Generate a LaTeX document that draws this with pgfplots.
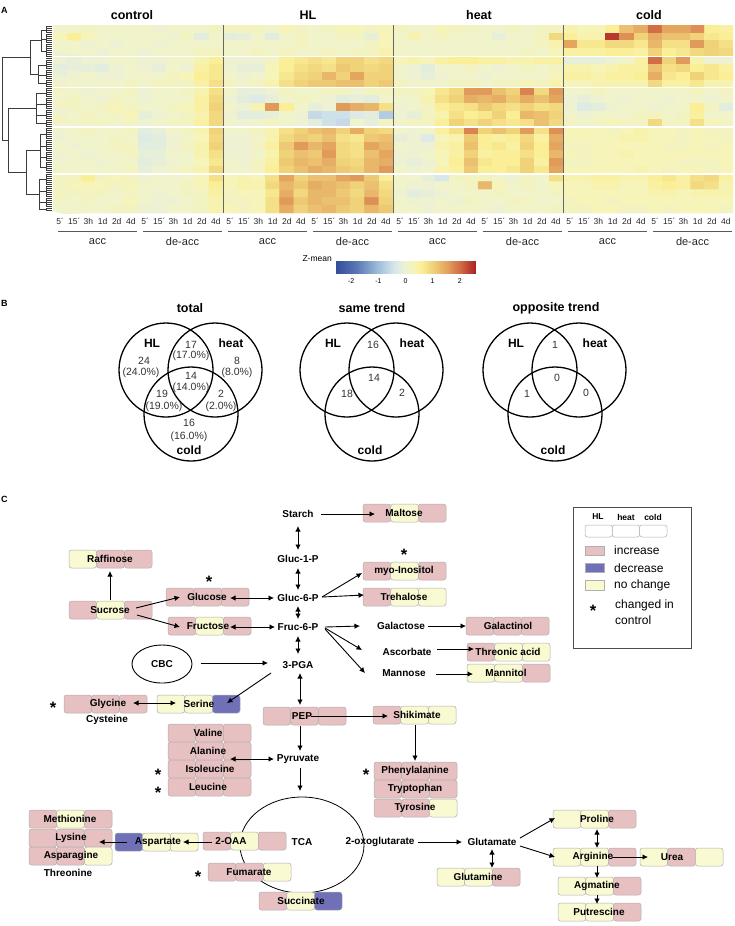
\documentclass[border=0pt]{standalone}
\usepackage{fontspec}
\setmainfont{Liberation Sans}
\usepackage{pgfplots}
\pgfplotsset{compat=1.18}
\usetikzlibrary{arrows.meta}
\definecolor{inc}{RGB}{231,192,193}
\definecolor{dec}{RGB}{112,112,184}
\definecolor{nc}{RGB}{249,249,210}
\definecolor{bxd}{RGB}{175,175,175}
\definecolor{dend}{RGB}{60,60,60}
\newcommand{\fsz}[1]{\fontsize{#1}{#1}\selectfont}
\tikzset{
  ar/.style={-{Latex[length=5.5pt,width=5.5pt]}, line width=0.9pt},
  dar/.style={{Latex[length=5.5pt,width=5.5pt]}-{Latex[length=5.5pt,width=5.5pt]}, line width=0.9pt},
  lab/.style={font=\bfseries\fsz{10}, inner sep=0pt},
  num/.style={font=\fsz{10.5}, text=black!80, inner sep=0pt},
  vlab/.style={font=\bfseries\fsz{12}, inner sep=0pt},
  star/.style={font=\bfseries\fsz{16.5}, inner sep=0pt},
}
\newcommand{\tri}[7]{%
  \draw[bxd, fill=#3, rounded corners=2.5pt, line width=0.5pt] (#1,#2) rectangle ({#1+27.7},{#2+18});
  \draw[bxd, fill=#4, rounded corners=2.5pt, line width=0.5pt] ({#1+27.7},#2) rectangle ({#1+55.4},{#2+18});
  \draw[bxd, fill=#5, rounded corners=2.5pt, line width=0.5pt] ({#1+55.4},#2) rectangle ({#1+83},{#2+18});
  \node[lab] at (#6,{#2+9}) {#7};
}
\newcommand{\venncirc}[1]{%
  \draw[line width=1.3pt] ({166+#1},370) circle[radius=47];
  \draw[line width=1.3pt] ({215+#1},370) circle[radius=47];
  \draw[line width=1.3pt] ({191+#1},414) circle[radius=47];
  \node[vlab] at ({152+#1},343) {HL};
  \node[vlab] at ({231+#1},343) {heat};
  \node[vlab] at ({189+#1},450) {cold};
}
\newcommand{\dsub}[3]{%
  \draw[dend,line width=0.6pt] (46,#2) -- (46,#3);
  \draw[dend,line width=0.6pt] (#1,{(#2+#3)/2}) -- (46,{(#2+#3)/2});
}
\begin{document}
\begin{tikzpicture}
\useasboundingbox (0,0) rectangle (734pt,-926pt);

% ---------- panel A decorations (dendrogram, titles, brackets)
\begin{scope}[x=1pt,y=-1pt]
  \node[font=\bfseries\fsz{9}, anchor=west, inner sep=0pt] at (1,10) {A};
  \node[font=\bfseries\fsz{12.5}] at (132,15) {control};
  \node[font=\bfseries\fsz{12.5}] at (308,15) {HL};
  \node[font=\bfseries\fsz{12.5}] at (479,15) {heat};
  \node[font=\bfseries\fsz{12.5}] at (649,15) {cold};
  \foreach \k in {0,...,92} { \draw[dend, line width=0.45pt] (46,{26.5+2*\k}) -- (52,{26.5+2*\k}); }
  \dsub{41}{27}{33}\dsub{41}{35}{43}\dsub{41}{45}{57}
  \draw[dend,line width=0.6pt] (41,30) -- (41,51);
  \dsub{38}{61}{69}\dsub{38}{71}{79}\dsub{38}{81}{86}
  \draw[dend,line width=0.6pt] (38,65) -- (38,83.5);
  \dsub{36}{89}{97}\dsub{36}{99}{109}\dsub{36}{111}{119}\dsub{36}{121}{126}
  \draw[dend,line width=0.6pt] (36,93) -- (36,123.5);
  \dsub{40}{129}{139}\dsub{40}{141}{151}\dsub{40}{153}{161}\dsub{40}{163}{171}
  \draw[dend,line width=0.6pt] (40,134) -- (40,167);
  \dsub{39}{174}{184}\dsub{39}{186}{196}\dsub{39}{198}{206}\dsub{39}{208}{211}
  \draw[dend,line width=0.6pt] (39,179) -- (39,209.5);
  \draw[dend,line width=0.8pt] (41,40.5) -- (30,40.5) -- (30,74.25) -- (38,74.25);
  \draw[dend,line width=0.8pt] (40,150.5) -- (26,150.5) -- (26,194.25) -- (39,194.25);
  \draw[dend,line width=0.8pt] (36,108.25) -- (8,108.25) -- (8,172.4) -- (26,172.4);
  \draw[dend,line width=0.9pt] (30,57.4) -- (2,57.4) -- (2,140.3) -- (8,140.3);
  % brackets
  \foreach \g/\t in {0/acc,1/de-acc,2/acc,3/de-acc,4/acc,5/de-acc,6/acc,7/de-acc} {
    \draw[black!65, line width=0.7pt] ({58+85*\g},231) -- ({137+85*\g},231);
    \node[font=\fsz{11}, text=black!85] at ({97.5+85*\g},242) {\t};
  }
  \node[font=\fsz{8.5}, anchor=east, inner sep=1pt] at (333,259) {Z-mean};
\end{scope}

% ---------- heatmap
\begin{axis}[at={(53pt,-25pt)}, anchor=north west, scale only axis,
  width=680pt, height=188pt,
  xmin=-0.5, xmax=47.5, ymin=-0.5, ymax=23.5, y dir=reverse,
  axis line style={draw=none}, ytick=\empty,
  xtick={0,...,47},
  xticklabels={5´,15´,3h,1d,2d,4d,5´,15´,3h,1d,2d,4d,5´,15´,3h,1d,2d,4d,5´,15´,3h,1d,2d,4d,5´,15´,3h,1d,2d,4d,5´,15´,3h,1d,2d,4d,5´,15´,3h,1d,2d,4d,5´,15´,3h,1d,2d,4d},
  xtick style={draw=none},
  xticklabel style={font=\fsz{8.5}, text=black!85, yshift=-1.5pt},
  colormap={zm}{rgb255(0cm)=(50,75,155); rgb255(8cm)=(90,120,180); rgb255(16cm)=(160,190,220); rgb255(22cm)=(215,232,235); rgb255(26cm)=(238,242,210); rgb255(29cm)=(246,244,185); rgb255(32cm)=(250,238,150); rgb255(36cm)=(240,210,120); rgb255(41cm)=(228,165,95); rgb255(46cm)=(210,110,70); rgb255(52cm)=(170,30,35)},
  point meta min=-2.6, point meta max=2.6,
  colorbar horizontal,
  colorbar style={at={(parent axis.south west)}, anchor=north west, xshift=282pt, yshift=-40pt,
    width=141pt, height=12pt, scale only axis,
    xtick={-2,-1,0,1,2}, xticklabels={-2,-1,0,1,2},
    xticklabel style={font=\fsz{7}, yshift=-2pt},
    xtick style={draw=none}, axis line style={draw=none}},
]
\addplot[matrix plot*, mesh/cols=48, point meta=explicit]
  table[row sep=\\, x expr={mod(\coordindex,48)}, y expr={floor(\coordindex/48)}, meta=z] {
z\\
0.1\\0.1\\0.2\\0.1\\0.1\\0.1\\ 0.1\\0.0\\0.1\\0.1\\0.1\\0.2\\ 0.2\\0.2\\0.2\\0.1\\0.3\\0.2\\ 0.1\\0.2\\0.3\\0.3\\0.2\\0.3\\ 0.2\\0.1\\0.1\\0.3\\0.2\\0.2\\ 0.1\\0.1\\0.2\\0.1\\0.2\\0.2\\ 0.4\\0.3\\0.3\\0.6\\1.2\\1.4\\ 2.0\\1.5\\1.5\\1.7\\0.6\\0.5\\
0.3\\0.6\\0.3\\0.1\\0.1\\0.1\\ 0.1\\0.1\\0.0\\0.2\\-0.2\\0.1\\ -0.2\\-0.1\\0.1\\-0.2\\0.1\\0.2\\ 0.1\\0.1\\0.2\\0.2\\-0.1\\0.3\\ 0.1\\0.4\\0.1\\0.2\\0.1\\0.1\\ 0.1\\-0.1\\0.1\\0.1\\0.2\\0.9\\ 0.6\\0.4\\0.4\\2.4\\1.7\\1.0\\ 1.4\\1.2\\1.2\\1.0\\0.7\\0.6\\
0.1\\0.1\\0.0\\0.1\\0.0\\0.1\\ 0.1\\0.0\\0.1\\0.1\\0.1\\0.1\\ 0.1\\0.1\\0.1\\0.1\\0.1\\0.2\\ 0.1\\0.1\\0.1\\0.1\\0.2\\0.3\\ 0.1\\0.1\\0.1\\0.1\\0.1\\0.1\\ 0.1\\0.1\\0.1\\0.1\\0.2\\0.4\\ 1.5\\0.7\\0.7\\0.9\\0.9\\0.7\\ 1.3\\0.8\\0.8\\1.6\\1.0\\0.8\\
0.1\\0.1\\0.1\\0.0\\0.1\\0.1\\ 0.0\\0.1\\0.1\\0.1\\0.2\\0.2\\ 0.1\\0.1\\0.2\\0.1\\0.2\\0.1\\ 0.1\\0.2\\0.1\\0.2\\0.2\\0.4\\ 0.1\\0.1\\0.1\\0.1\\0.1\\0.1\\ 0.1\\0.1\\0.1\\0.2\\0.1\\0.3\\ 0.5\\0.5\\0.5\\0.6\\0.6\\0.5\\ 1.0\\0.6\\0.7\\0.9\\1.0\\0.9\\
0.0\\-0.1\\0.0\\0.0\\0.1\\0.1\\ 0.0\\0.0\\0.1\\0.1\\0.4\\0.6\\ 0.0\\0.0\\0.0\\0.2\\0.6\\0.7\\ 0.8\\0.7\\1.0\\1.0\\0.8\\0.9\\ 0.3\\0.4\\0.3\\0.5\\0.6\\0.6\\ 0.5\\0.5\\0.4\\0.4\\0.5\\0.5\\ -0.1\\-0.1\\-0.1\\0.0\\0.1\\0.5\\ 2.0\\1.0\\1.6\\0.4\\0.0\\0.0\\
-0.2\\-0.1\\-0.1\\-0.2\\0.0\\0.1\\ 0.0\\-0.1\\0.1\\0.0\\0.5\\0.7\\ 0.0\\-0.1\\-0.1\\0.3\\0.6\\0.8\\ 0.9\\0.8\\1.1\\1.0\\0.9\\1.0\\ 0.1\\0.0\\-0.2\\0.1\\0.1\\0.2\\ 0.1\\0.0\\0.1\\0.2\\0.1\\0.2\\ 0.4\\0.4\\0.3\\0.4\\0.5\\0.5\\ 1.2\\0.8\\0.9\\0.6\\0.7\\0.5\\
-0.1\\0.0\\0.1\\0.0\\0.0\\0.1\\ 0.1\\0.1\\0.2\\0.3\\0.6\\0.7\\ 0.1\\0.0\\0.1\\0.3\\0.7\\0.9\\ 1.0\\1.3\\1.0\\1.5\\1.0\\1.0\\ 0.1\\0.0\\-0.1\\0.0\\0.1\\0.1\\ 0.0\\0.1\\0.1\\0.1\\0.1\\0.3\\ 0.5\\0.5\\0.4\\0.5\\0.5\\0.6\\ 1.4\\0.7\\0.6\\1.0\\0.7\\0.6\\
0.0\\0.1\\0.1\\0.1\\0.1\\0.2\\ 0.1\\0.2\\0.2\\0.2\\0.5\\0.8\\ 0.2\\0.1\\0.2\\0.4\\0.8\\1.0\\ 1.1\\1.1\\1.2\\1.2\\1.0\\1.1\\ 0.2\\0.1\\0.1\\0.1\\0.2\\0.2\\ 0.1\\0.2\\0.2\\0.3\\0.2\\0.4\\ 0.3\\0.3\\0.4\\0.4\\0.4\\0.4\\ 0.9\\0.5\\0.5\\0.7\\0.4\\0.4\\
0.2\\0.1\\0.0\\0.1\\0.1\\0.2\\ 0.0\\0.1\\0.1\\0.2\\0.4\\0.8\\ 0.1\\-0.1\\-0.1\\0.0\\0.2\\0.1\\ 0.1\\0.2\\0.2\\0.0\\0.2\\0.2\\ 0.2\\0.2\\0.3\\0.7\\0.9\\1.6\\ 1.6\\1.2\\1.0\\1.8\\0.9\\1.6\\ 0.1\\0.1\\0.2\\0.1\\0.1\\0.1\\ 0.1\\0.1\\0.1\\0.2\\0.1\\0.2\\
0.1\\0.2\\0.1\\0.0\\0.2\\0.1\\ 0.0\\0.1\\0.1\\0.1\\0.5\\0.9\\ 0.0\\-0.2\\-0.3\\-0.1\\0.1\\0.2\\ 0.1\\0.0\\-0.2\\-0.1\\-0.2\\0.1\\ 0.1\\0.1\\0.4\\0.8\\1.0\\1.4\\ 1.3\\1.4\\1.1\\1.4\\1.2\\1.5\\ 0.0\\-0.1\\0.0\\0.1\\0.0\\0.1\\ 0.1\\0.0\\0.1\\0.1\\0.0\\0.1\\
0.3\\0.2\\0.1\\0.2\\0.3\\0.2\\ 0.1\\0.1\\0.2\\0.3\\0.5\\1.0\\ 0.1\\0.0\\0.4\\1.6\\0.6\\0.1\\ -0.1\\0.0\\1.6\\1.4\\1.3\\0.8\\ 0.0\\0.1\\0.2\\0.6\\0.7\\0.8\\ 1.1\\0.9\\0.8\\1.0\\0.8\\0.9\\ 0.0\\-0.3\\-0.2\\0.0\\0.1\\0.1\\ 0.0\\0.1\\0.1\\0.6\\0.2\\-0.2\\
0.0\\0.1\\0.2\\0.1\\0.2\\0.3\\ -0.1\\0.0\\0.1\\0.2\\0.4\\0.9\\ 0.0\\-0.2\\-0.2\\-0.1\\0.1\\0.0\\ -0.6\\-0.5\\-0.5\\-0.3\\-0.2\\-0.8\\ 0.0\\-0.1\\0.2\\0.4\\0.8\\0.6\\ 0.7\\1.0\\0.6\\1.3\\1.2\\1.0\\ 0.1\\0.0\\0.1\\0.1\\0.1\\0.2\\ 0.2\\0.1\\0.2\\0.5\\0.1\\0.1\\
0.2\\0.1\\0.2\\0.2\\0.1\\0.2\\ 0.0\\0.1\\0.2\\0.2\\0.5\\0.9\\ 0.1\\0.0\\0.1\\0.2\\0.1\\0.0\\ -0.2\\-0.5\\-0.6\\0.1\\-0.1\\0.2\\ 0.1\\0.2\\0.2\\0.6\\1.0\\0.8\\ 1.0\\0.8\\0.7\\0.8\\1.2\\0.9\\ 0.2\\0.1\\0.2\\0.3\\0.2\\0.2\\ 0.9\\0.2\\0.2\\0.8\\0.3\\0.2\\
0.1\\0.1\\0.2\\0.1\\0.1\\0.2\\ -0.2\\-0.1\\0.1\\0.2\\0.4\\1.0\\ 0.1\\0.1\\0.2\\0.4\\0.8\\1.0\\ 1.2\\1.3\\1.0\\1.4\\1.0\\0.9\\ 0.1\\0.0\\0.1\\0.5\\0.8\\1.8\\ 1.0\\1.2\\1.0\\1.6\\0.8\\1.7\\ 0.3\\0.3\\0.3\\0.2\\0.3\\0.4\\ 0.3\\0.3\\0.2\\0.3\\0.2\\0.2\\
0.0\\0.1\\0.1\\0.1\\0.2\\0.1\\ -0.3\\-0.2\\0.0\\0.1\\0.3\\0.9\\ 0.0\\0.0\\0.1\\0.4\\0.9\\1.1\\ 1.0\\1.2\\0.8\\0.7\\1.1\\1.2\\ -0.1\\0.0\\-0.3\\0.3\\0.4\\1.1\\ 0.6\\0.5\\0.6\\0.9\\0.5\\1.4\\ 0.3\\0.3\\0.3\\0.3\\0.4\\0.4\\ 0.3\\0.3\\0.2\\0.3\\0.3\\0.2\\
0.1\\0.0\\0.1\\0.1\\0.2\\0.2\\ -0.2\\-0.2\\0.0\\0.2\\0.4\\1.0\\ 0.0\\0.0\\0.2\\0.5\\1.1\\1.6\\ 1.3\\1.5\\0.9\\0.8\\1.5\\1.3\\ 0.1\\0.0\\0.0\\0.4\\0.5\\1.2\\ 0.6\\0.7\\0.5\\1.0\\0.6\\1.5\\ 0.2\\0.2\\0.3\\0.3\\0.3\\0.3\\ 0.3\\0.2\\0.2\\0.3\\0.2\\0.3\\
0.1\\0.1\\0.0\\0.1\\0.1\\0.2\\ -0.1\\-0.1\\0.1\\0.1\\0.4\\0.8\\ 0.0\\0.0\\0.1\\0.4\\1.0\\1.2\\ 1.1\\1.6\\0.9\\0.8\\1.2\\1.5\\ 0.0\\0.0\\0.1\\0.3\\0.5\\1.0\\ 0.5\\0.6\\0.6\\0.8\\0.6\\1.3\\ 0.3\\0.2\\0.3\\0.3\\0.4\\0.3\\ 0.3\\0.3\\0.3\\0.3\\0.3\\0.3\\
0.0\\0.1\\0.1\\0.0\\0.1\\0.1\\ -0.2\\-0.1\\0.0\\0.1\\0.3\\0.7\\ 0.1\\0.0\\0.2\\0.5\\1.1\\1.3\\ 1.2\\1.4\\1.0\\0.9\\1.3\\1.4\\ 0.0\\-0.1\\0.0\\0.3\\0.6\\1.2\\ 0.7\\0.6\\0.6\\1.0\\0.5\\1.6\\ 0.2\\0.2\\0.3\\0.3\\0.3\\0.3\\ 0.3\\0.3\\0.2\\0.2\\0.2\\0.3\\
0.1\\0.1\\0.1\\0.1\\0.1\\0.2\\ -0.1\\0.0\\0.1\\0.2\\0.4\\0.9\\ 0.1\\0.1\\0.2\\0.6\\1.0\\1.2\\ 1.4\\1.3\\1.1\\1.0\\1.3\\1.6\\ 0.1\\0.0\\0.1\\0.4\\0.5\\1.1\\ 0.6\\0.6\\0.7\\1.0\\0.7\\1.5\\ 0.3\\0.3\\0.3\\0.3\\0.3\\0.4\\ 0.3\\0.2\\0.3\\0.3\\0.2\\0.3\\
0.2\\0.2\\0.6\\0.2\\0.3\\0.2\\ 0.0\\0.1\\0.1\\0.1\\0.3\\0.8\\ 0.3\\0.4\\0.3\\0.8\\1.5\\1.0\\ 1.2\\1.2\\1.5\\1.6\\1.1\\0.6\\ 0.1\\0.1\\-0.1\\-0.4\\0.2\\0.2\\ 0.2\\0.1\\0.0\\0.2\\0.1\\0.8\\ 0.4\\0.4\\0.5\\0.5\\0.4\\0.4\\ 0.6\\0.7\\0.5\\0.8\\0.9\\0.5\\
0.2\\0.3\\0.3\\0.3\\0.2\\0.3\\ 0.1\\0.1\\0.1\\0.2\\0.3\\0.6\\ 0.3\\0.4\\0.4\\0.9\\1.3\\1.1\\ 1.4\\1.3\\1.2\\1.0\\1.2\\0.8\\ 0.1\\0.0\\0.0\\0.1\\0.1\\0.2\\ 1.3\\0.3\\0.1\\0.2\\0.1\\0.3\\ 0.3\\0.3\\0.4\\0.4\\0.3\\0.3\\ 0.5\\0.6\\0.5\\0.9\\0.8\\0.4\\
0.1\\0.2\\0.2\\0.2\\0.1\\0.2\\ 0.1\\0.0\\0.1\\0.2\\0.2\\0.5\\ 0.2\\0.3\\0.3\\0.7\\1.4\\0.9\\ 1.3\\1.3\\1.1\\0.9\\1.3\\0.9\\ 0.0\\-0.2\\-0.1\\0.0\\0.1\\0.1\\ 0.1\\0.2\\0.1\\0.1\\0.1\\0.2\\ 0.3\\0.3\\0.3\\0.3\\0.3\\0.3\\ 0.4\\0.4\\0.3\\0.4\\0.4\\0.4\\
0.2\\0.1\\0.2\\0.1\\0.1\\0.3\\ 0.1\\0.0\\0.0\\0.1\\0.2\\0.4\\ 0.2\\0.2\\0.3\\0.8\\1.6\\1.1\\ 1.3\\1.2\\1.2\\1.0\\1.7\\1.0\\ 0.1\\0.0\\0.0\\0.1\\0.0\\0.2\\ 0.1\\0.1\\0.2\\0.2\\0.1\\0.1\\ 0.2\\0.3\\0.3\\0.2\\0.3\\0.3\\ 0.3\\0.3\\0.3\\0.3\\0.3\\0.3\\
0.1\\0.1\\0.1\\0.1\\0.2\\0.2\\ 0.0\\0.0\\0.1\\0.1\\0.2\\0.4\\ 0.3\\0.2\\0.3\\0.8\\1.4\\1.0\\ 1.2\\1.3\\1.1\\1.0\\1.3\\1.1\\ 0.1\\0.1\\0.0\\0.1\\0.1\\0.1\\ 0.1\\0.0\\0.1\\0.1\\0.1\\0.2\\ 0.2\\0.2\\0.3\\0.3\\0.2\\0.2\\ 0.3\\0.2\\0.3\\0.3\\0.3\\0.2\\
};
\draw[black!60, line width=0.8pt] (axis cs:11.5,-0.5) -- (axis cs:11.5,23.5);
\draw[black!60, line width=0.8pt] (axis cs:23.5,-0.5) -- (axis cs:23.5,23.5);
\draw[black!60, line width=0.8pt] (axis cs:35.5,-0.5) -- (axis cs:35.5,23.5);
\draw[white, line width=1.4pt] (axis cs:-0.5,3.5) -- (axis cs:47.5,3.5);
\draw[white, line width=1.4pt] (axis cs:-0.5,7.5) -- (axis cs:47.5,7.5);
\draw[white, line width=1.4pt] (axis cs:-0.5,12.5) -- (axis cs:47.5,12.5);
\draw[white, line width=1.4pt] (axis cs:-0.5,18.5) -- (axis cs:47.5,18.5);
\end{axis}

% ---------- panels B and C in a hidden pixel-unit axis
\begin{axis}[at={(0pt,0pt)}, anchor=north west, scale only axis,
  width=734pt, height=926pt, xmin=0, xmax=734, ymin=0, ymax=926,
  y dir=reverse, hide axis, clip=false]
% panel B
\node[font=\bfseries\fsz{9}, anchor=west, inner sep=0pt] at (1,303) {B};
\node[font=\bfseries\fsz{12.5}] at (190,308) {total};
\node[font=\bfseries\fsz{12.5}] at (372,308) {same trend};
\node[font=\bfseries\fsz{12.5}] at (556,308) {opposite trend};
\venncirc{0}
\venncirc{181}
\venncirc{364}
\node[num] at (144,361) {24}; \node[num] at (141,373) {(24.0\%)};
\node[num] at (191,345) {17}; \node[num] at (191,356) {(17.0\%)};
\node[num] at (237,361) {8};  \node[num] at (237,373) {(8.0\%)};
\node[num] at (191,376) {14}; \node[num] at (191,388) {(14.0\%)};
\node[num] at (162,394) {19}; \node[num] at (164,407) {(19.0\%)};
\node[num] at (221,394) {2};  \node[num] at (221,407) {(2.0\%)};
\node[num] at (189,423) {16}; \node[num] at (189,437) {(16.0\%)};
\node[num] at (373,345) {16}; \node[num] at (374,378) {14};
\node[num] at (347,394) {18}; \node[num] at (402,393) {2};
\node[num] at (555,345) {1};  \node[num] at (557,378) {0};
\node[num] at (527,394) {1};  \node[num] at (586,393) {0};

% panel C
\node[font=\bfseries\fsz{9}, anchor=west, inner sep=0pt] at (1,499) {C};
\draw[line width=0.8pt] (302,845) ellipse[x radius=62, y radius=48];
\draw[line width=0.9pt] (162,664) ellipse[x radius=30, y radius=19];
\node[lab] at (162,664) {CBC};
\node[lab] at (298,514) {Starch};
\node[lab] at (298,559) {Gluc-1-P};
\node[lab] at (298,598) {Gluc-6-P};
\node[lab] at (298,627) {Fruc-6-P};
\node[lab] at (298,665) {3-PGA};
\node[lab] at (401,626) {Galactose};
\node[lab] at (407,652) {Ascorbate};
\node[lab] at (404,673) {Mannose};
\node[lab] at (107,720) {Cysteine};
\node[lab] at (298,759) {Pyruvate};
\node[lab] at (302,842) {TCA};
\node[lab] at (68,873) {Threonine};
\node[lab] at (380,842) {2-oxoglutarate};
\node[lab] at (492,842) {Glutamate};

\tri{69}{550}{nc}{inc}{inc}{110}{Raffinose}
\tri{69}{601}{inc}{nc}{inc}{110}{Sucrose}
\tri{166}{588}{inc}{inc}{inc}{207}{Glucose}
\tri{168}{617}{inc}{nc}{inc}{208}{Fructose}
\tri{363}{504}{inc}{nc}{inc}{404}{Maltose}
\tri{363}{562}{inc}{nc}{inc}{404}{myo-Inositol}
\tri{363}{588}{inc}{nc}{nc}{404}{Trehalose}
\tri{466}{617}{inc}{inc}{inc}{508}{Galactinol}
\tri{467}{643}{inc}{nc}{nc}{508}{Threonic acid}
\tri{467}{664}{nc}{nc}{inc}{506}{Mannitol}
\tri{64}{695}{inc}{inc}{inc}{108}{Glycine}
\tri{157}{695}{nc}{nc}{dec}{199}{Serine}
\tri{263}{707}{inc}{inc}{inc}{302}{PEP}
\tri{373}{706}{inc}{nc}{nc}{417}{Shikimate}
\tri{168}{724}{inc}{inc}{inc}{208}{Valine}
\tri{168}{742}{inc}{inc}{inc}{208}{Alanine}
\tri{168}{760}{inc}{inc}{inc}{210}{Isoleucine}
\tri{168}{778}{inc}{inc}{inc}{208}{Leucine}
\tri{374}{762}{inc}{inc}{inc}{415}{Phenylalanine}
\tri{374}{780}{inc}{inc}{inc}{415}{Tryptophan}
\tri{374}{799}{inc}{inc}{nc}{415}{Tyrosine}
\tri{29}{810}{inc}{nc}{inc}{70}{Methionine}
\tri{29}{829}{inc}{inc}{inc}{71}{Lysine}
\tri{29}{847}{inc}{inc}{nc}{71}{Asparagine}
\tri{115}{833}{dec}{nc}{nc}{158}{Aspartate}
\tri{203}{832}{inc}{nc}{inc}{231}{2-OAA}
\tri{208}{863}{inc}{inc}{nc}{249}{Fumarate}
\tri{259}{892}{inc}{nc}{dec}{301}{Succinate}
\tri{553}{810}{nc}{nc}{inc}{597}{Proline}
\tri{553}{848}{nc}{nc}{inc}{593}{Arginine}
\tri{640}{848}{nc}{inc}{nc}{672}{Urea}
\tri{437}{868}{nc}{nc}{inc}{478}{Glutamine}
\tri{558}{877}{nc}{nc}{inc}{597}{Agmatine}
\tri{558}{903}{nc}{nc}{inc}{599}{Putrescine}

% stars
\node[star] at (209,582) {*};
\node[star] at (404,555) {*};
\node[star] at (53,707.5) {*};
\node[star] at (158,774.5) {*};
\node[star] at (158,792.5) {*};
\node[star] at (366,774.5) {*};
\node[star] at (198,876.5) {*};

% arrows
\draw[ar] (321,514) -- (375,514);
\draw[ar] (110,600) -- (110,571);
\draw[ar] (136,608) -- (180,597);
\draw[ar] (137,615) -- (180,627);
\draw[ar] (322,597) -- (362,573);
\draw[ar] (322,597) -- (364,595);
\draw[ar] (325,627) -- (360,626);
\draw[ar] (325,628) -- (362,650);
\draw[ar] (325,629) -- (365,673);
\draw[ar] (428,626) -- (466,626);
\draw[ar] (437,649) -- (474,649);
\draw[ar] (436,674) -- (473,674);
\draw[ar] (201,663) -- (268,663);
\draw[ar] (271,673) -- (227,703);
\draw[ar] (311,716) -- (388,716);
\draw[ar] (415,725) -- (415,761);
\draw[ar] (300,726) -- (300,751);
\draw[ar] (300,768) -- (300,791);
\draw[ar] (212,842) -- (183,842);
\draw[ar] (127,842) -- (99,842);
\draw[ar] (418,842) -- (462,842);
\draw[ar] (520,838) -- (555,818);
\draw[ar] (520,846) -- (555,857);
\draw[ar] (612,857) -- (648,857);
\draw[ar] (597,866) -- (597,878);
\draw[ar] (597,895) -- (597,904);
\draw[dar] (298,526) -- (298,550);
\draw[dar] (298,568) -- (298,590);
\draw[dar] (298,606) -- (298,619);
\draw[dar] (298,636) -- (298,654);
\draw[dar] (300,673) -- (300,705);
\draw[dar] (230,598) -- (274,598);
\draw[dar] (230,627) -- (275,627);
\draw[dar] (133,703) -- (176,703);
\draw[dar] (230,759) -- (274,759);
\draw[dar] (597,829) -- (597,848);
\draw[dar] (492,849) -- (492,868);

% legend
\draw[line width=0.6pt, black!70] (573,507) rectangle (691,648);
\node[font=\bfseries\fsz{8.5}] at (598,517) {HL};
\node[font=\bfseries\fsz{8.5}] at (626,517) {heat};
\node[font=\bfseries\fsz{8.5}] at (653,517) {cold};
\draw[bxd, fill=white, rounded corners=2.5pt, line width=0.5pt] (585,525) rectangle (612.3,537);
\draw[bxd, fill=white, rounded corners=2.5pt, line width=0.5pt] (612.3,525) rectangle (639.6,537);
\draw[bxd, fill=white, rounded corners=2.5pt, line width=0.5pt] (639.6,525) rectangle (667,537);
\draw[bxd, fill=inc] (585,546) rectangle (604,555);
\draw[bxd, fill=dec] (585,563) rectangle (604,572);
\draw[bxd, fill=nc] (585,580) rectangle (604,590);
\node[font=\fsz{12}, anchor=west, inner sep=0pt] at (614,550) {increase};
\node[font=\fsz{12}, anchor=west, inner sep=0pt] at (614,568) {decrease};
\node[font=\fsz{12}, anchor=west, inner sep=0pt] at (614,585) {no change};
\node[star] at (593,610.5) {*};
\node[font=\fsz{12}, anchor=west, inner sep=0pt] at (615,605) {changed in};
\node[font=\fsz{12}, anchor=west, inner sep=0pt] at (615,620) {control};
\end{axis}
\end{tikzpicture}
\end{document}
